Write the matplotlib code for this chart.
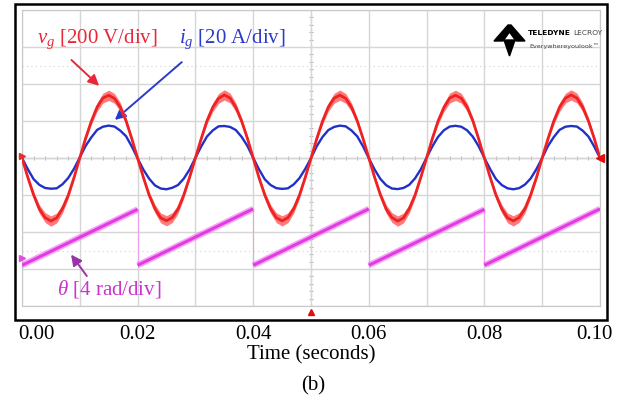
import matplotlib
matplotlib.use("Agg")
import matplotlib.pyplot as plt
import numpy as np
from matplotlib.patches import Rectangle, Polygon
from matplotlib.transforms import ScaledTranslation

plt.rcParams['font.family'] = 'serif'
plt.rcParams['font.serif'] = ['Liberation Serif', 'DejaVu Serif']
plt.rcParams['mathtext.fontset'] = 'custom'
plt.rcParams['mathtext.rm'] = 'Liberation Serif'
plt.rcParams['mathtext.it'] = 'Liberation Serif:italic'

# ---- data read from the scope capture (one sample per ms) ----
t_ms = np.arange(0, 101)  # ms

# grid voltage v_g (V)
v_g = [0, -104, -199, -276, -322, -341, -324, -274, -201, -106,
       1, 106, 199, 276, 324, 339, 322, 276, 201, 104,
       -1, -105, -201, -274, -324, -339, -322, -276, -199, -104,
       0, 104, 201, 274, 322, 341, 324, 274, 199, 106,
       0, -106, -200, -275, -323, -340, -323, -275, -201, -105,
       -1, 105, 200, 276, 323, 340, 322, 275, 200, 105,
       1, -104, -199, -276, -322, -341, -324, -274, -200, -104,
       0, 106, 201, 274, 324, 339, 323, 276, 201, 104,
       -1, -105, -201, -275, -324, -340, -322, -275, -199, -106,
       1, 104, 199, 275, 323, 341, 324, 275, 200, 106,
       0]

# grid current i_g (A)
i_g = [0.0, -6.0, -11.4, -14.5, -16.2, -16.6, -16.4, -14.2, -10.8, -5.8,
       0.3, 6.5, 11.2, 15.2, 16.9, 17.5, 17.0, 14.8, 11.8, 6.2,
       -0.2, -6.3, -11.2, -14.8, -16.5, -16.9, -16.1, -14.6, -11.1, -6.2,
       0.1, 6.2, 11.6, 14.9, 17.1, 17.3, 16.8, 15.1, 11.4, 6.5,
       0.1, -6.1, -11.5, -14.6, -16.3, -16.7, -16.4, -14.3, -10.9, -5.9,
       -0.1, 6.4, 11.4, 15.1, 16.8, 17.5, 17.1, 14.9, 11.7, 6.3,
       -0.1, -6.2, -11.3, -14.7, -16.5, -16.8, -16.2, -14.5, -11.0, -6.1,
       0.2, 6.3, 11.5, 15.0, 17.0, 17.4, 16.9, 15.0, 11.5, 6.4,
       0.0, -6.0, -11.4, -14.6, -16.4, -16.9, -16.3, -14.4, -11.1, -6.0,
       0.0, 6.5, 11.3, 15.2, 16.9, 17.3, 17.0, 14.8, 11.6, 6.2,
       0.0]

# PLL angle theta (rad): one ramp per grid period
ramp_t0 = [0.00, 0.02, 0.04, 0.06, 0.08]
ramp_t1 = [0.02, 0.04, 0.06, 0.08, 0.10]
theta_start = [0.0, 0.0, 0.0, 0.0, 0.0]
theta_end = [6.05, 6.10, 6.10, 6.05, 6.10]

xticks = [0.00, 0.02, 0.04, 0.06, 0.08, 0.10]
xticklabels = ["0.00", "0.02", "0.04", "0.06", "0.08", "0.10"]

# scope scales / channel offsets (divisions)
v_div, i_div, th_div = 200.0, 20.0, 4.0
th_offset = -2.9

t = t_ms / 1000.0
vg_d = np.array(v_g) / v_div
ig_d = np.array(i_g) / i_div
ripple = (4 + 0.07 * np.abs(v_g)) / v_div

fig = plt.figure(figsize=(6.26, 4.05), dpi=100)
W, H = 626.0, 405.0
def fx(px):
    return px / W
def fy(py):
    return 1 - py / H

ax = fig.add_axes([fx(22), fy(306), (600 - 22) / W, (306 - 10) / H])
ax.set_xlim(0, 0.1)
ax.set_ylim(-4, 4)

# scope graticule
ax.set_xticks(xticks)
ax.set_xticks(np.arange(0, 0.1001, 0.01), minor=True)
ax.set_yticks(np.arange(-4, 5, 1))
ax.grid(True, which='both', color='#d6d6d6', lw=1.0)
ax.set_yticklabels([])
ax.tick_params(axis='both', which='both', length=0)
ax.tick_params(axis='x', pad=13.5, labelsize=15)
for s in ax.spines.values():
    s.set_color('#c8c8c8')
ax.axhline(0, color='#a8a8a8', lw=0.9, zorder=1)
ax.axvline(0.05, color='#b0b0b0', lw=0.9, ls=(0, (2, 2)), zorder=1)
ax.plot(np.arange(0, 0.1, 0.002), np.zeros(50), ls='none', marker='|',
        ms=3, mew=0.8, color='#b8b8b8', zorder=1)
ax.plot(np.full(40, 0.05), np.arange(-4, 4, 0.2), ls='none', marker='_',
        ms=3, mew=0.8, color='#b8b8b8', zorder=1)
for yy in (2.5, -2.5):
    ax.axhline(yy, color='#d0d0d0', lw=0.8, ls=(0, (1, 3)), zorder=1)

ax.set_xticklabels(xticklabels)
labs = ax.get_xticklabels()
labs[0].set_transform(labs[0].get_transform() + ScaledTranslation(14 / 100, 0, fig.dpi_scale_trans))
labs[-1].set_transform(labs[-1].get_transform() + ScaledTranslation(-6 / 100, 0, fig.dpi_scale_trans))
ax.set_xlabel('Time (seconds)', fontsize=15)
ax.xaxis.set_label_coords(0.5, (60 - 99) / 296.0)

# traces
ax.plot(t, ig_d, color='#2030c8', lw=1.7, zorder=3)
ax.fill_between(t, vg_d - ripple, vg_d + ripple, color='#ff7a7a', lw=0, zorder=4)
ax.plot(t, vg_d, color='#ee2222', lw=2.0, zorder=5)
for a, b, s, e in zip(ramp_t0, ramp_t1, theta_start, theta_end):
    ax.plot([a, b], [s / th_div + th_offset, e / th_div + th_offset],
            color='#f070f0', lw=4.5, alpha=0.6, solid_capstyle='butt', zorder=3)
    ax.plot([a, b], [s / th_div + th_offset, e / th_div + th_offset],
            color='#e23be2', lw=2.2, solid_capstyle='butt', zorder=3)
for a, s, e in zip(ramp_t1[:-1], theta_start[1:], theta_end[:-1]):
    ax.plot([a, a], [s / th_div + th_offset, e / th_div + th_offset],
            color='#f0a0f0', lw=0.8, zorder=2)

# channel / trigger markers
ax.plot([0.05], [-4.17], marker='^', ms=5, color='#e01010', clip_on=False, zorder=6)
ax.plot([0.1], [0], marker='<', ms=6, color='#e01010', clip_on=False, zorder=6)
ax.plot([0.0], [0.05], marker='>', ms=4, color='#e03030', clip_on=False, zorder=6)
ax.plot([0.0], [th_offset + 0.2], marker='>', ms=4, color='#e050e0', clip_on=False, zorder=6)

# annotations
ax.text(0.0026, 3.2, r'$v_g$ [200 V/div]', color='#e8283a', fontsize=15, va='center')
ax.text(0.0272, 3.2, r'$i_g$ [20 A/div]', color='#2a3acc', fontsize=15, va='center')
ax.text(0.0060, -3.55, r'$\theta$ [4 rad/div]', color='#cc33cc', fontsize=15, va='center')
ax.annotate('', xy=(0.0137, 1.90), xytext=(0.0082, 2.70),
            arrowprops=dict(arrowstyle='-|>', color='#e8283a', lw=1.4, mutation_scale=16))
ax.annotate('', xy=(0.0157, 0.98), xytext=(0.0280, 2.64),
            arrowprops=dict(arrowstyle='-|>', color='#2a3acc', lw=1.4, mutation_scale=16))
ax.annotate('', xy=(0.0082, -2.55), xytext=(0.0115, -3.25),
            arrowprops=dict(arrowstyle='-|>', color='#9933aa', lw=1.4, mutation_scale=16))

# Teledyne LeCroy logo
logo1 = [(494, 41), (508, 25), (511, 25), (525, 41), (516, 41), (509.5, 32), (503, 41)]
logo2 = [(504, 40), (515, 40), (509.5, 56)]
for pts in (logo1, logo2):
    fig.add_artist(Polygon([(fx(x), fy(y)) for x, y in pts], closed=True,
                           color='black', transform=fig.transFigure))
sans = ['DejaVu Sans']
t1 = fig.text(fx(528), fy(33), 'TELEDYNE', fontsize=5.4, weight='bold', va='center', family=sans)
fig.canvas.draw()
fig.text(t1.get_window_extent().x1 / W + fx(2), fy(33), 'LECROY', fontsize=5.4,
         va='center', color='#444444', family=sans)
fig.text(fx(529), fy(46), 'Everywhereyoulook\u2122', fontsize=4.6, va='center',
         color='#444444', family=sans)

# scope frame
fig.add_artist(Rectangle((fx(15), fy(320)), (607 - 15) / W, (320 - 4) / H,
                         fill=False, edgecolor='black', lw=1.8, transform=fig.transFigure))

fig.text(fx(313), fy(386), '(b)', fontsize=15, ha='center', va='center')

fig.savefig('out.png', dpi=100, facecolor='white')
